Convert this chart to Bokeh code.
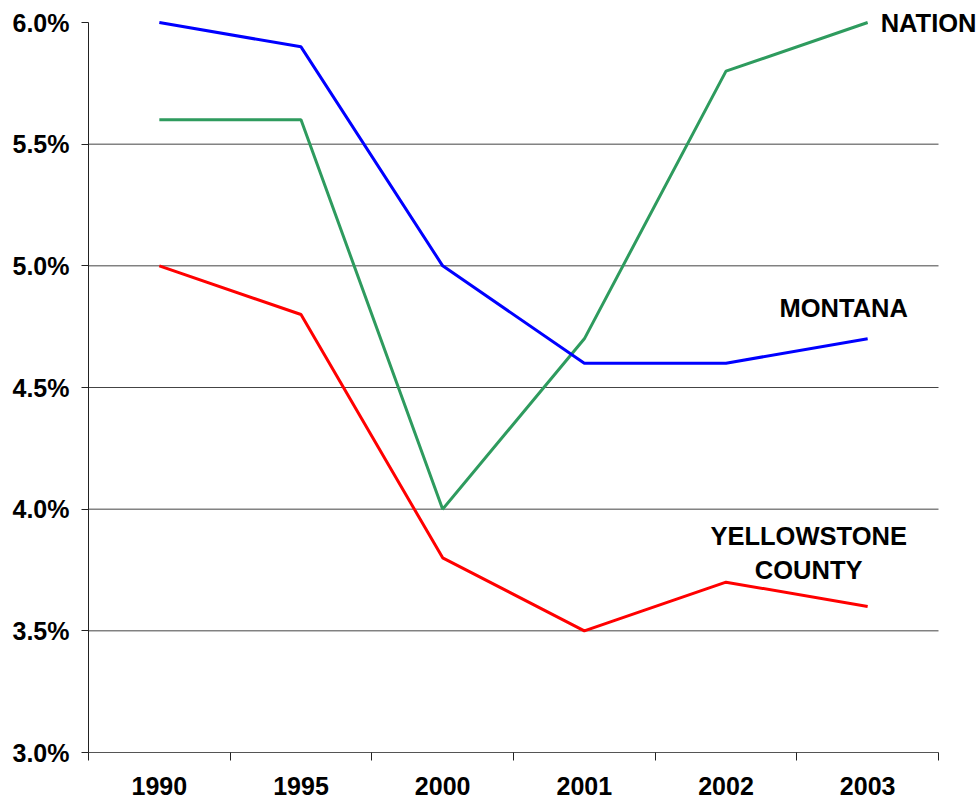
from bokeh.plotting import figure
from bokeh.models import (Range1d, LinearAxis, FixedTicker, PrintfTickFormatter, Label)
from bokeh.embed import file_html
from bokeh.resources import INLINE

years = ["1990", "1995", "2000", "2001", "2002", "2003"]
montana = [6.0, 5.9, 5.0, 4.6, 4.6, 4.7]
nation = [5.6, 5.6, 4.0, 4.7, 5.8, 6.0]
yellowstone = [5.0, 4.8, 3.8, 3.5, 3.7, 3.6]
y_ticks = [3.0, 3.5, 4.0, 4.5, 5.0, 5.5, 6.0]
grid_ticks = [3.5, 4.0, 4.5, 5.0, 5.5]

FONT = "Liberation Sans"
AXIS_FS = "25px"
LABEL_FS = "25.5px"

# layout (pixels)
W, H = 980, 802
LEFT, BOTTOM = 88, 50
AXIS_W, AXIS_H = 850, 730        # size of the drawn axes box
FRAME_W, FRAME_H = W - LEFT, H - BOTTOM

# category slots: each year occupies one unit, centred at i + 0.5
xs = [i + 0.5 for i in range(len(years))]
bounds = list(range(len(years) + 1))
n = len(years)
y0, y1 = y_ticks[0], y_ticks[-1]
x_end = n * FRAME_W / AXIS_W
y_end = y0 + (y1 - y0) * FRAME_H / AXIS_H

p = figure(width=W, height=H, output_backend="svg", toolbar_location=None,
           x_range=Range1d(0, x_end), y_range=Range1d(y0, y_end),
           x_axis_location=None, y_axis_location=None,
           min_border_left=LEFT, min_border_right=0,
           min_border_top=0, min_border_bottom=BOTTOM)
p.outline_line_color = None
p.background_fill_color = "white"
p.border_fill_color = "white"

# y axis
yaxis = LinearAxis(ticker=FixedTicker(ticks=y_ticks),
                   formatter=PrintfTickFormatter(format="%.1f%%"))
yaxis.bounds = (y0, y1)
yaxis.major_tick_out = 7
yaxis.major_tick_in = 0
yaxis.minor_tick_line_color = None
yaxis.axis_line_color = "#222222"
yaxis.major_tick_line_color = "#222222"
yaxis.major_label_standoff = 12
yaxis.major_label_text_font = FONT
yaxis.major_label_text_font_style = "bold"
yaxis.major_label_text_font_size = AXIS_FS
yaxis.major_label_text_color = "black"
p.add_layout(yaxis, "left")

# x axis: labels at category centres, tick marks at category boundaries
xaxis = LinearAxis(ticker=FixedTicker(ticks=xs, minor_ticks=bounds))
xaxis.bounds = (0, n)
xaxis.major_label_overrides = {x: y for x, y in zip(xs, years)}
xaxis.major_tick_out = 0
xaxis.major_tick_in = 0
xaxis.major_tick_line_color = None
xaxis.minor_tick_out = 8
xaxis.minor_tick_in = 0
xaxis.minor_tick_line_color = "#222222"
xaxis.minor_tick_line_width = 1
xaxis.axis_line_color = "#555555"
xaxis.major_label_standoff = 16
xaxis.major_label_text_font = FONT
xaxis.major_label_text_font_style = "bold"
xaxis.major_label_text_font_size = AXIS_FS
xaxis.major_label_text_color = "black"
p.add_layout(xaxis, "below")

# horizontal grid lines, limited to the axes box
p.xgrid.grid_line_color = None
p.ygrid.grid_line_color = None
p.segment(x0=[0] * len(grid_ticks), x1=[n] * len(grid_ticks),
          y0=grid_ticks, y1=grid_ticks, line_color="#444444", line_width=1)

p.line(xs, nation, line_color="#2E9B5E", line_width=3)
p.line(xs, montana, line_color="#0000FF", line_width=3)
p.line(xs, yellowstone, line_color="#FF0000", line_width=3)

last_x = xs[-1]

def lab(text, x_off, y, align):
    p.add_layout(Label(x=last_x, y=y, x_offset=x_off,
                       text=text, text_font=FONT, text_font_style="bold",
                       text_font_size=LABEL_FS, text_color="black",
                       text_align=align, text_baseline="middle"))

lab("NATION", 13, nation[-1], "left")
lab("MONTANA", -24, 4.825, "center")
lab("YELLOWSTONE", -59, 3.888, "center")
lab("COUNTY", -59, 3.752, "center")

open("out.html", "w").write(file_html(p, INLINE))
